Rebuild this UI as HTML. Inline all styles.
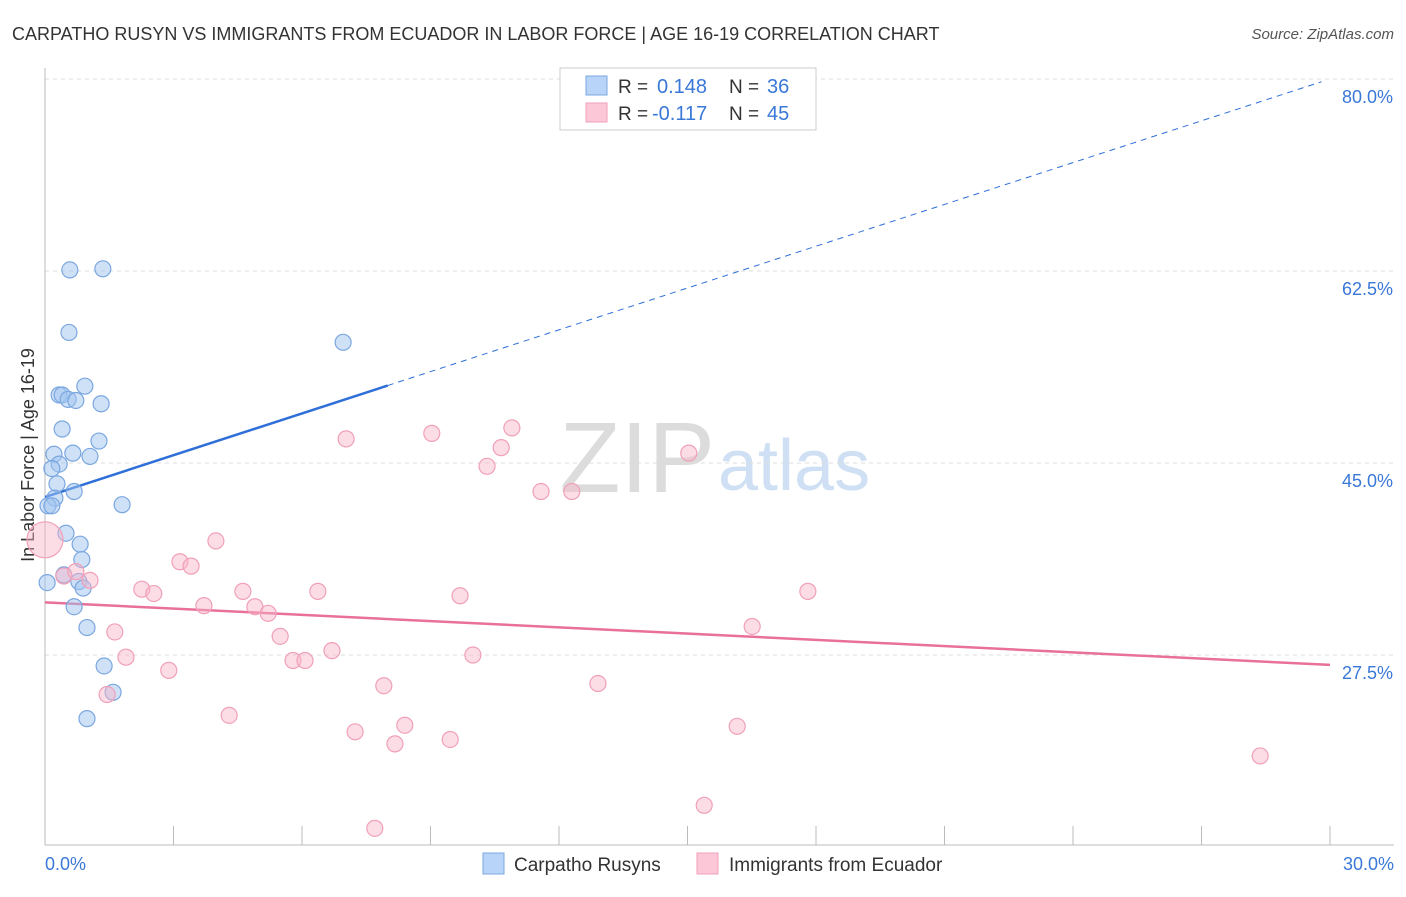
<!DOCTYPE html>
<html><head><meta charset="utf-8">
<style>
body{margin:0;background:#fff;font-family:"Liberation Sans",sans-serif;}
svg text{font-family:"Liberation Sans",sans-serif;}
</style></head>
<body>
<svg id="chart" width="1406" height="892" xmlns="http://www.w3.org/2000/svg">
<text x="12" y="40" font-size="18" fill="#333">CARPATHO RUSYN VS IMMIGRANTS FROM ECUADOR IN LABOR FORCE | AGE 16-19 CORRELATION CHART</text>
<text x="1394" y="39" font-size="15" fill="#555" font-style="italic" text-anchor="end">Source: ZipAtlas.com</text>
<text x="715" y="492" font-size="100" fill="#dcdcdc" text-anchor="end" font-family="Liberation Serif">ZIP</text>
<text x="718" y="490" font-size="72" fill="#cfe0f4">atlas</text>
<text transform="translate(34,455) rotate(-90)" font-size="18" fill="#333" text-anchor="middle">In Labor Force | Age 16-19</text>
<g id="grid"></g><g id="axes"></g><g id="lines"></g><g id="pts"></g>
<g>
<rect x="560" y="68" width="256" height="62" fill="#fff" stroke="#ccc"/>
<rect x="586" y="76" width="21" height="19" fill="#b8d4f8" stroke="#7ba7e0"/>
<rect x="586" y="103" width="21" height="19" fill="#fcc8d8" stroke="#f0a0b8"/>
<text x="618" y="93" font-size="19" fill="#333">R =</text>
<text x="657" y="93" font-size="20" fill="#3a78d8">0.148</text>
<text x="729" y="93" font-size="19" fill="#333">N =</text>
<text x="767" y="93" font-size="20" fill="#3a78d8">36</text>
<text x="618" y="120" font-size="19" fill="#333">R =</text>
<text x="652" y="120" font-size="20" fill="#3a78d8">-0.117</text>
<text x="729" y="120" font-size="19" fill="#333">N =</text>
<text x="767" y="120" font-size="20" fill="#3a78d8">45</text>
</g>
<g>
<rect x="483" y="853" width="21" height="21" fill="#b8d4f8" stroke="#7ba7e0"/>
<text x="514" y="871" font-size="19" fill="#333">Carpatho Rusyns</text>
<rect x="697" y="853" width="21" height="21" fill="#fcc8d8" stroke="#f0a0b8"/>
<text x="729" y="871" font-size="19" fill="#333">Immigrants from Ecuador</text>
</g>
</svg>
<script>
const blueX=[0.58,1.35,0.56,6.96,0.93,0.33,0.40,0.54,0.72,1.31,0.40,1.26,0.21,0.65,1.05,0.33,0.16,0.28,0.68,0.23,0.07,0.16,1.80,0.49,0.82,0.86,0.05,0.44,0.79,0.89,0.68,0.98,1.38,1.59,0.98];
const blueY=[62.6,62.7,56.9,56.0,52.0,51.2,51.2,50.8,50.7,50.4,48.1,47.0,45.8,45.9,45.6,44.9,44.5,43.1,42.4,41.8,41.1,41.1,41.2,38.6,37.6,36.2,34.1,34.8,34.2,33.6,31.9,30.0,26.5,24.1,21.7];
const pinkX=[0.0,7.03,9.03,10.90,10.65,10.32,15.03,11.58,12.30,3.99,3.15,3.41,2.26,2.54,4.62,6.37,9.69,3.71,4.90,5.21,17.81,16.51,1.63,5.49,1.89,6.70,5.79,6.07,9.99,2.89,7.91,12.91,1.45,4.30,8.40,16.16,7.24,8.17,9.46,28.37,15.39,7.70,0.44,1.05,0.72];
const pinkY=[38.0,47.2,47.7,48.2,46.4,44.7,45.9,42.4,42.4,37.9,36.0,35.6,33.5,33.1,33.3,33.3,32.9,32.0,31.9,31.3,33.3,30.1,29.6,29.2,27.3,27.9,27.0,27.0,27.5,26.1,24.7,24.9,23.9,22.0,21.1,21.0,20.5,19.4,19.8,18.3,13.8,11.7,34.7,34.3,35.1];
const yTicks=[80,62.5,45,27.5];
const yTickLabels=["80.0%","62.5%","45.0%","27.5%"];
const xTicks=[0,3,6,9,12,15,18,21,24,27,30];
const blueTrend=[41.9,1.27];
const pinkTrend=[32.3,-0.19];
const NS="http://www.w3.org/2000/svg";
const sx=v=>45+v/30*1285;
const sy=v=>463-(v-45)*192/17.5;
function mk(tag,attrs,parent){const e=document.createElementNS(NS,tag);for(const k in attrs)e.setAttribute(k,attrs[k]);document.getElementById(parent).appendChild(e);return e;}
yTicks.forEach((t,i)=>{
  const g=mk('line',{x1:45,x2:1394,y1:sy(t),y2:sy(t),stroke:'#ddd','stroke-dasharray':'4,4'},'grid');
  
  
  const l=mk('text',{x:1393,y:sy(t)+24,'font-size':18,fill:'#3a78d8','text-anchor':'end'},'axes');
  l.textContent=yTickLabels[i];
  
  
});
mk('line',{x1:45,x2:45,y1:68,y2:845,stroke:'#bbb'},'axes');
mk('line',{x1:45,x2:1394,y1:845,y2:845,stroke:'#bbb'},'axes');
xTicks.forEach(t=>{const e=mk('line',{x1:sx(t),x2:sx(t),y1:826,y2:845,stroke:'#bbb'},'axes');
  
  });
const xl0=mk('text',{x:45,y:870,'font-size':18,fill:'#3a78d8'},'axes');xl0.textContent='0.0%';


const xl1=mk('text',{x:1394,y:870,'font-size':18,fill:'#3a78d8','text-anchor':'end'},'axes');xl1.textContent='30.0%';


const bf=x=>blueTrend[0]+blueTrend[1]*x;
const bl=mk('line',{x1:sx(0),y1:sy(bf(0)),x2:sx(8),y2:sy(bf(8)),stroke:'#2e6fd8','stroke-width':2.5},'lines');


const bd=mk('line',{x1:sx(8),y1:sy(bf(8)),x2:sx(29.8),y2:sy(bf(29.8)),stroke:'#2e6fd8','stroke-width':1,'stroke-dasharray':'6,5'},'lines');


const pf=x=>pinkTrend[0]+pinkTrend[1]*x;
const pl=mk('line',{x1:sx(0),y1:sy(pf(0)),x2:sx(30),y2:sy(pf(30)),stroke:'#e8709a','stroke-width':2.5},'lines');


blueX.forEach((x,i)=>{const c=mk('circle',{cx:sx(x),cy:sy(blueY[i]),r:8,fill:'rgba(160,196,240,0.5)',stroke:'#7ba7e0','stroke-width':1.2},'pts');
  
  });
pinkX.forEach((x,i)=>{const c=mk('circle',{cx:sx(x),cy:sy(pinkY[i]),r:i===0?18:8,fill:'rgba(248,180,200,0.45)',stroke:'#f0a0b8','stroke-width':1.2},'pts');
  
  });
</script>
</body></html>
